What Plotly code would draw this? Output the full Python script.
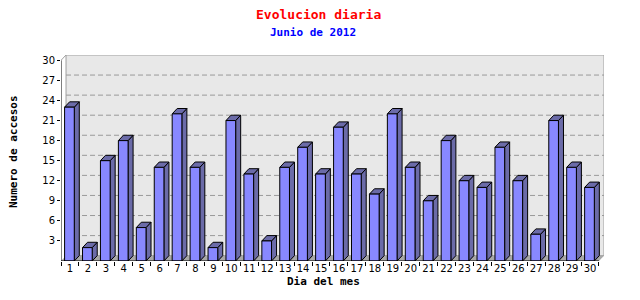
import plotly.graph_objects as go

days = list(range(1, 31))
accesos = [23, 2, 15, 18, 5, 14, 22, 14, 2, 21,
           13, 3, 14, 17, 13, 20, 13, 10, 22, 14,
           9, 18, 12, 11, 17, 12, 4, 21, 14, 11]
y_ticks = [3, 6, 9, 12, 15, 18, 21, 24, 27, 30]
title_text = "Evolucion diaria"
subtitle_text = "Junio de 2012"
x_title = "Dia del mes"
y_title = "Numero de accesos"

YMAX = 30
DX = 0.28   # depth offset in x units
DY = 0.8    # depth offset in y units
FL = 0.30   # front-left offset from category centre
FW = 0.54   # front width

FRONT = "#8888ff"
SIDE = "#6b6ba8"

fig = go.Figure()

sx, sy, tx, ty, fx, fy = [], [], [], [], [], []
for d, v in zip(days, accesos):
    l = d - FL
    r = l + FW
    sx += [r, r + DX, r + DX, r, r, None]
    sy += [0, DY, v + DY, v, 0, None]
    tx += [l, l + DX, r + DX, r, l, None]
    ty += [v, v + DY, v + DY, v, v, None]
    fx += [l, r, r, l, l, None]
    fy += [0, 0, v, v, 0, None]

for xs, ys, col in [(sx, sy, SIDE), (tx, ty, SIDE), (fx, fy, FRONT)]:
    fig.add_trace(go.Scatter(x=xs, y=ys, mode="lines", fill="toself",
                             fillcolor=col, line=dict(color="black", width=1),
                             hoverinfo="skip", showlegend=False))

x0, x1 = 0.5, 30.5
shapes = []
shapes.append(dict(type="rect", xref="x", yref="y", x0=x0 + DX, x1=x1 + DX,
                   y0=DY, y1=YMAX + DY, fillcolor="#e8e8e8",
                   line=dict(color="#a0a0a0", width=1), layer="below"))
for t in y_ticks[:-1]:
    shapes.append(dict(type="line", xref="x", yref="y", x0=x0 + DX, x1=x1 + DX,
                       y0=t + DY, y1=t + DY,
                       line=dict(color="#999999", width=1, dash="5px,3px"),
                       layer="below"))
shapes.append(dict(type="path", xref="x", yref="y",
                   path=f"M{x0},0 L{x1},0 L{x1 + DX},{DY} L{x0 + DX},{DY} Z",
                   fillcolor="#a8a8a8", line=dict(color="#a8a8a8", width=0),
                   layer="below"))
shapes.append(dict(type="line", xref="x", yref="y", x0=x0, x1=x0 + DX,
                   y0=YMAX, y1=YMAX + DY, line=dict(color="#a0a0a0", width=1)))
shapes.append(dict(type="line", xref="x", yref="y", x0=x0, x1=x0,
                   y0=0, y1=YMAX, line=dict(color="black", width=1)))
shapes.append(dict(type="line", xref="x", yref="y", x0=x0, x1=x1,
                   y0=0, y1=0, line=dict(color="black", width=1)))

ML, MR, MT, MB = 61, 36, 55, 39
W, H = 640, 300
pw = W - ML - MR
ph = H - MT - MB

def px_to_paper(px, py):
    return (px - ML) / pw, (H - MB - py) / ph

mono = "DejaVu Sans Mono"
ann = []
def add_text(txt, px, py, size, color, angle=0):
    ax_, ay_ = px_to_paper(px, py)
    ann.append(dict(text=f"<b>{txt}</b>", x=ax_, y=ay_, xref="paper", yref="paper",
                    xanchor="center", yanchor="middle", showarrow=False,
                    textangle=angle,
                    font=dict(family=mono, size=size, color=color)))

add_text(title_text, 318, 14, 13, "#ff0000")
add_text(subtitle_text, 313, 32, 11, "#0000ff")
add_text(x_title, 323, 281, 11, "black")
add_text(y_title, 13, 152, 11, "black", -90)

fig.update_layout(
    width=W, height=H,
    margin=dict(l=ML, r=MR, t=MT, b=MB, pad=0),
    paper_bgcolor="white", plot_bgcolor="white",
    shapes=shapes, annotations=ann,
    showlegend=False,
    font=dict(family="DejaVu Sans", size=10, color="black"),
    xaxis=dict(range=[x0, x1 + DX], tickmode="array", tickvals=days,
               ticktext=[str(d) for d in days], ticks="", showgrid=False,
               zeroline=False, showline=False, fixedrange=True,
               tickfont=dict(family="DejaVu Sans", size=10),
               minor=dict(tickmode="array", tickvals=[d + 0.5 for d in range(0, 31)],
                          ticks="outside", ticklen=4, tickcolor="black", showgrid=False)),
    yaxis=dict(range=[0, YMAX + DY], tickmode="array", tickvals=y_ticks,
               ticks="outside", ticklen=3, tickcolor="black", showgrid=False,
               zeroline=False, showline=False, fixedrange=True,
               tickfont=dict(family="DejaVu Sans", size=10)),
)

fig.write_html("out.html", config={"displayModeBar": False})
